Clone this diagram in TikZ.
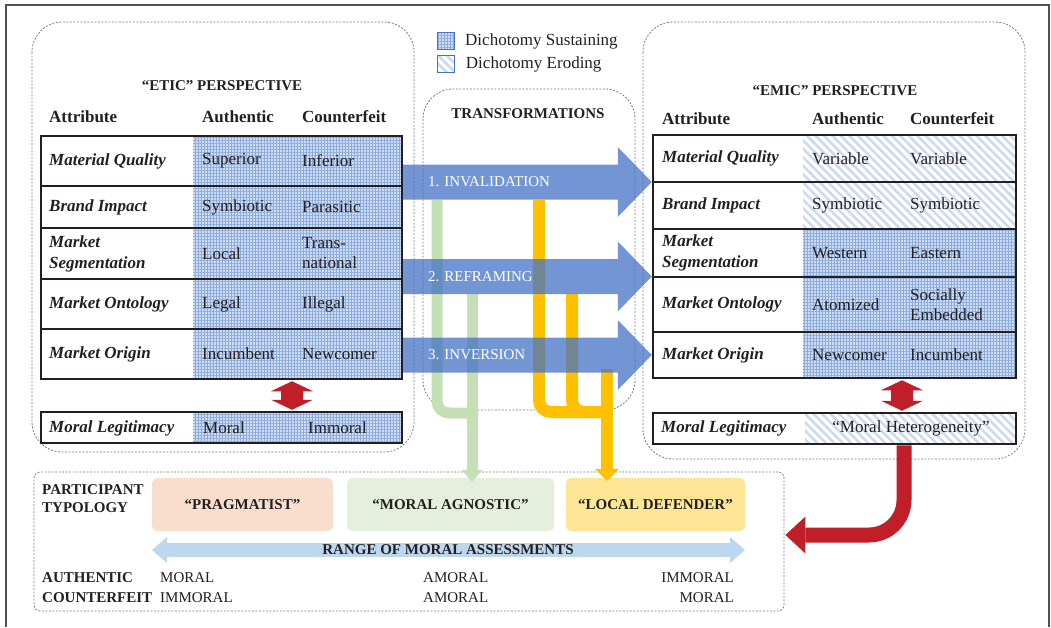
\documentclass[tikz,border=0pt]{standalone}
\usepackage{fontspec}
\setmainfont{Liberation Serif}
\usetikzlibrary{arrows.meta,patterns.meta,calc,positioning}

\definecolor{inkgray}{RGB}{35,31,32}
\definecolor{boxgray}{RGB}{125,125,125}
\definecolor{framegray}{RGB}{80,80,80}
\definecolor{sustbg}{RGB}{205,220,242}
\definecolor{sustline}{RGB}{140,170,218}
\definecolor{erodeline}{RGB}{205,218,238}
\definecolor{transblue}{RGB}{68,114,196}
\definecolor{pipegreen}{RGB}{197,224,180}
\definecolor{pipeyellow}{RGB}{255,192,0}
\definecolor{heavyred}{RGB}{192,30,40}
\definecolor{rangeblue}{RGB}{189,215,238}
\definecolor{pragfill}{RGB}{250,222,205}
\definecolor{agnfill}{RGB}{228,240,219}
\definecolor{deffill}{RGB}{252,230,150}

\begin{document}
\begin{tikzpicture}[x=1pt,y=-1pt,
  persp/.style={draw=boxgray, line width=0.8pt, dash pattern=on 2pt off 1.5pt, rounded corners=30pt},
  tbl/.style={draw=inkgray, line width=2.5pt},
  sustain/.style={preaction={fill=sustbg}, pattern={Hatch[distance=3pt,line width=1pt]}, pattern color=sustline},
  erode/.style={preaction={fill=white}, pattern={Lines[angle=-45,distance=6pt,line width=2.5pt]}, pattern color=erodeline},
  caps/.style={font=\fontsize{15}{18}\selectfont\bfseries, text=inkgray, inner sep=0pt},
  colhead/.style={font=\fontsize{17}{20}\selectfont\bfseries, text=inkgray, anchor=west, inner sep=0pt},
  attr/.style={font=\fontsize{17}{21}\selectfont\bfseries\itshape, text=inkgray, anchor=west, align=left, inner sep=0pt},
  val/.style={font=\fontsize{17}{20}\selectfont, text=inkgray, anchor=west, align=left, inner sep=0pt},
  rangeval/.style={font=\fontsize{15}{18}\selectfont, text=inkgray, inner sep=0pt},
  typebox/.style={rounded corners=5pt, minimum height=53pt, font=\fontsize{15}{18}\selectfont\bfseries, text=inkgray},
  transarrow/.style={fill=transblue, fill opacity=.75, to path={
    ($(\tikztostart)+(0,-17.5)$) -- ($(\tikztotarget)+(-34,-17.5)$) -- ($(\tikztotarget)+(-34,-35)$)
    -- (\tikztotarget) -- ($(\tikztotarget)+(-34,35)$) -- ($(\tikztotarget)+(-34,17.5)$)
    -- ($(\tikztostart)+(0,17.5)$) -- cycle}},
  translabel/.style={font=\fontsize{15}{18}\selectfont, text=white, anchor=west, inner sep=0pt},
  greenpipe/.style={draw=pipegreen, line width=11pt, rounded corners=12pt},
  yellowpipe/.style={draw=pipeyellow, line width=12pt, rounded corners=12pt},
  reddbl/.style={fill=heavyred, to path={
    (\tikztostart) -- ($(\tikztostart)+(21,10)$) -- ($(\tikztostart)+(11,10)$)
    -- ($(\tikztotarget)+(11,-10)$) -- ($(\tikztotarget)+(21,-10)$) -- (\tikztotarget)
    -- ($(\tikztotarget)+(-21,-10)$) -- ($(\tikztotarget)+(-11,-10)$)
    -- ($(\tikztostart)+(-11,10)$) -- ($(\tikztostart)+(-21,10)$) -- cycle}},
  redbend/.style={draw=heavyred, line width=15pt, rounded corners=35pt, -{Triangle[width=37pt,length=20pt,line width=0pt]}},
  rangearrow/.style={draw=rangeblue, line width=14pt, {Triangle[width=26pt,length=15pt,line width=0pt]}-{Triangle[width=26pt,length=15pt,line width=0pt]}},
  legbox/.style={draw=transblue, line width=0.8pt, minimum size=17pt, inner sep=0pt},
  legtext/.style={font=\fontsize{17}{20}\selectfont, text=inkgray, inner sep=0pt}
]
\useasboundingbox (0,0) rectangle (1051,627);
\draw[framegray, line width=1.2pt] (6,627) -- (6,5) -- (1049,5) -- (1049,627);

\draw[persp] (32,22) rectangle (414,452);
\draw[persp] (643,22) rectangle (1025,459);
\draw[persp] (423,89) rectangle (635,410);

\node[legbox, sustain] (leg-s) at (446,41) {};
\node[legbox, erode] (leg-e) at (446,64) {};
\node[legtext, right=10pt of leg-s] (leg-s-txt) {Dichotomy Sustaining};
\node[legtext, right=10pt of leg-e] (leg-e-txt) {Dichotomy Eroding};

\node[caps] (trans-title) at (528,114) {TRANSFORMATIONS};

\node[caps] (etic-title) at (222,86) {“ETIC” PERSPECTIVE};
\node[colhead] (etic-h1) at (49,117) {Attribute};
\node[colhead] (etic-h2) at (202,117) {Authentic};
\node[colhead] (etic-h3) at (302,117) {Counterfeit};
\fill[sustain] (193,136) rectangle (402,379);
\fill[sustain] (193,412) rectangle (402,443);
\node[tbl, minimum width=361pt, minimum height=243pt] (etic) at (221.5,257.5) {};
\node[tbl, minimum width=361pt, minimum height=31pt] (etic-ml) at (221.5,427.5) {};
\foreach \y in {186,228,279,329}
  \draw[tbl] (41,\y) -- (402,\y);
\node[attr] (etic-a1) at (49,161) {Material Quality};
\node[attr] (etic-a2) at (49,207) {Brand Impact};
\node[attr] (etic-a3) at (49,253.5) {Market\\Segmentation};
\node[attr] (etic-a4) at (49,304) {Market Ontology};
\node[attr] (etic-a5) at (49,354) {Market Origin};
\node[attr] (etic-a6) at (49,428) {Moral Legitimacy};
\node[val] (etic-b1) at (202,161) {Superior};
\node[val] (etic-b2) at (202,207) {Symbiotic};
\node[val] (etic-b3) at (202,253.5) {Local};
\node[val] (etic-b4) at (202,304) {Legal};
\node[val] (etic-b5) at (202,354) {Incumbent};
\node[val] (etic-b6) at (203,428) {Moral};
\node[val] (etic-c1) at (302,161) {Inferior};
\node[val] (etic-c2) at (302,207) {Parasitic};
\node[val] (etic-c3) at (302,253.5) {Trans-\\national};
\node[val] (etic-c4) at (302,304) {Illegal};
\node[val] (etic-c5) at (302,354) {Newcomer};
\node[val] (etic-c6) at (308,428) {Immoral};

\node[caps] (emic-title) at (835,91) {“EMIC” PERSPECTIVE};
\node[colhead] (emic-h1) at (662,119) {Attribute};
\node[colhead] (emic-h2) at (812,119) {Authentic};
\node[colhead] (emic-h3) at (910,119) {Counterfeit};
\fill[erode] (803,135) rectangle (1016,229);
\fill[sustain] (803,229) rectangle (1016,378);
\fill[erode] (805,413) rectangle (1016,444);
\node[tbl, minimum width=363pt, minimum height=243pt] (emic) at (834.5,256.5) {};
\node[tbl, minimum width=363pt, minimum height=31pt] (emic-ml) at (834.5,428.5) {};
\foreach \y in {182,229,277,332}
  \draw[tbl] (653,\y) -- (1016,\y);
\node[attr] (emic-a1) at (662,158.5) {Material Quality};
\node[attr] (emic-a2) at (662,205.5) {Brand Impact};
\node[attr] (emic-a3) at (662,253) {Market\\Segmentation};
\node[attr] (emic-a4) at (662,304.5) {Market Ontology};
\node[attr] (emic-a5) at (662,355) {Market Origin};
\node[attr] (emic-a6) at (661,428.5) {Moral Legitimacy};
\node[val] (emic-b1) at (812,158.5) {Variable};
\node[val] (emic-b2) at (812,205.5) {Symbiotic};
\node[val] (emic-b3) at (812,253) {Western};
\node[val] (emic-b4) at (812,304.5) {Atomized};
\node[val] (emic-b5) at (812,355) {Newcomer};
\node[val] (emic-c1) at (910,158.5) {Variable};
\node[val] (emic-c2) at (910,205.5) {Symbiotic};
\node[val] (emic-c3) at (910,253) {Eastern};
\node[val, font=\fontsize{17}{19.5}\selectfont] (emic-c4) at (910,304.5) {Socially\\Embedded};
\node[val] (emic-c5) at (910,355) {Incumbent};
\node[val, anchor=center] (emic-c6) at (911,428.5) {“Moral Heterogeneity”};

\node[draw=boxgray, line width=0.8pt, dash pattern=on 2pt off 1.5pt, rounded corners=6pt,
  minimum width=750pt, minimum height=139pt] (typology) at (409,541.5) {};
\node[caps, anchor=west, align=left] (typ-label) at (42,499) {PARTICIPANT\\TYPOLOGY};
\node[typebox, fill=pragfill, minimum width=181pt] (prag) at (242.5,504.5) {“PRAGMATIST”};
\node[typebox, fill=agnfill, minimum width=207pt] (agnostic) at (450.5,504.5) {“MORAL AGNOSTIC”};
\node[typebox, fill=deffill, minimum width=179pt] (defender) at (655.5,504.5) {“LOCAL DEFENDER”};

\coordinate (range-l) at (152,550);
\coordinate (range-r) at (745,550);
\draw[rangearrow] (range-l) -- (range-r);
\node[caps] (range-lab) at (448,550) {RANGE OF MORAL ASSESSMENTS};
\node[caps, anchor=west] (auth-lab) at (42,578) {AUTHENTIC};
\node[caps, anchor=west] (cf-lab) at (42,598) {COUNTERFEIT};
\node[rangeval, anchor=west] (auth-l) at (160,578) {MORAL};
\node[rangeval, anchor=west] (cf-l) at (160,598) {IMMORAL};
\node[rangeval, anchor=west] (auth-m) at (423,578) {AMORAL};
\node[rangeval, anchor=west] (cf-m) at (423,598) {AMORAL};
\node[rangeval, anchor=east] (auth-r) at (734,578) {IMMORAL};
\node[rangeval, anchor=east] (cf-r) at (734,598) {MORAL};

\coordinate (g-a) at (437,200);
\coordinate (g-b) at (472,294);
\coordinate (g-join) at (472,413);
\draw[greenpipe] (g-a) |- (g-join);
\draw[greenpipe, -{Triangle[width=21pt,length=12pt,line width=0pt]}] (g-b) -- ([yshift=-4pt]g-b |- agnostic.north);

\coordinate (y-c) at (539,200);
\coordinate (y-d) at (572,294);
\coordinate (y-e) at (607,369);
\coordinate (y-join) at (607,412);
\draw[yellowpipe] (y-c) |- (y-join);
\draw[yellowpipe] (y-d) |- (y-join);
\draw[yellowpipe, -{Triangle[width=24pt,length=12pt,line width=0pt]}] (y-e) -- ([yshift=-3pt]y-e |- defender.north);

\coordinate (inv-s) at (403,182);
\coordinate (ref-s) at (403,276.5);
\coordinate (ver-s) at (403,355);
\fill[transarrow] (inv-s) to (emic.west |- inv-s);
\fill[transarrow] (ref-s) to (emic.west |- ref-s);
\fill[transarrow] (ver-s) to (emic.west |- ver-s);
\node[translabel] (inv-lab) at ([xshift=25pt]inv-s) {1. INVALIDATION};
\node[translabel] (ref-lab) at ([xshift=25pt]ref-s) {2. REFRAMING};
\node[translabel] (ver-lab) at ([xshift=25pt]ver-s) {3. INVERSION};

\fill[reddbl] ([xshift=70.5pt,yshift=-1pt]etic.south) to ([xshift=70.5pt,yshift=1pt]etic-ml.north);
\fill[reddbl] ([xshift=67.5pt,yshift=-1pt]emic.south) to ([xshift=67.5pt,yshift=1pt]emic-ml.north);
\draw[redbend] ([xshift=69.5pt]emic-ml.south) |- ([xshift=1pt,yshift=6.5pt]typology.east);
\end{tikzpicture}
\end{document}
